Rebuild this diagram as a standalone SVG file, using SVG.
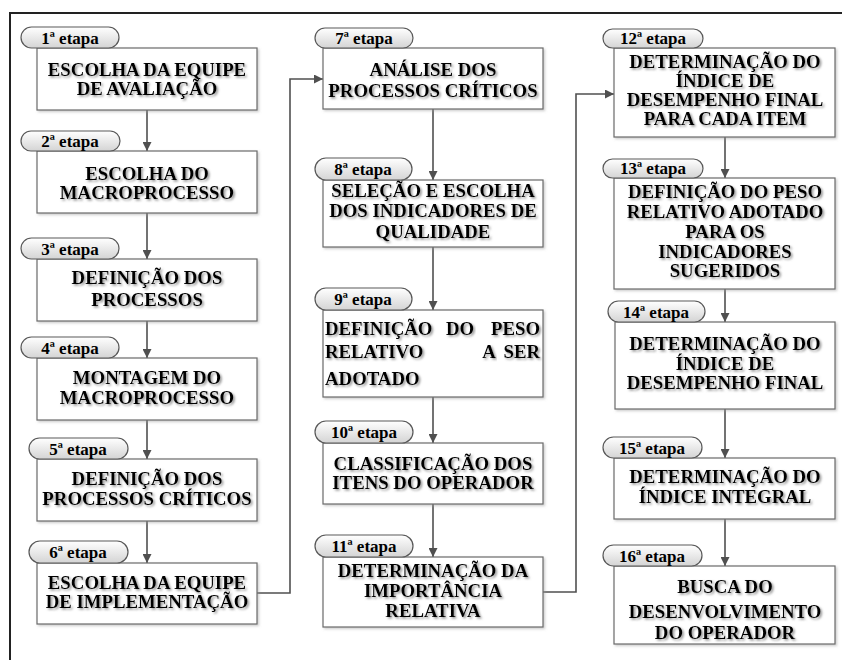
<svg xmlns="http://www.w3.org/2000/svg" width="842" height="660" viewBox="0 0 842 660">
<defs>
<linearGradient id="pg" x1="0" y1="0" x2="0" y2="1">
<stop offset="0" stop-color="#ffffff"/>
<stop offset="1" stop-color="#d4d4d4"/>
</linearGradient>
<filter id="ts" x="-5%" y="-20%" width="110%" height="150%">
<feDropShadow dx="1.6" dy="1.6" stdDeviation="0.9" flood-color="#6e6e6e" flood-opacity="0.75"/>
</filter>
<filter id="bs" x="-5%" y="-5%" width="112%" height="115%">
<feDropShadow dx="1.5" dy="1.5" stdDeviation="1" flood-color="#999" flood-opacity="0.5"/>
</filter>
<marker id="ah" markerUnits="userSpaceOnUse" markerWidth="9" markerHeight="9" viewBox="0 0 10 10" refX="10" refY="5" orient="auto">
<path d="M0,0 L10,5 L0,10 z" fill="#505050"/>
</marker>
</defs>
<style>
.box{fill:#fff;stroke:#6a6a6a;stroke-width:1.2;filter:url(#bs)}
.pill{fill:url(#pg);stroke:#585858;stroke-width:1.2}
.lbl{font-family:"Liberation Serif","Times New Roman",serif;font-weight:bold;font-size:17px;fill:#000;text-anchor:middle}
.t{font-family:"Liberation Serif","Times New Roman",serif;font-weight:bold;font-size:18.8px;fill:#000;text-anchor:middle;filter:url(#ts)}
.l{text-anchor:start}
.r{text-anchor:end}
.c{fill:none;stroke:#505050;stroke-width:1.6}
</style>
<path d="M10,660 L10,13 L842,13" fill="none" stroke="#222" stroke-width="2"/>

<g id="connectors">
<path class="c" d="M147,110 L147,151" marker-end="url(#ah)"/>
<path class="c" d="M147,213 L147,259" marker-end="url(#ah)"/>
<path class="c" d="M147,321 L147,358" marker-end="url(#ah)"/>
<path class="c" d="M147,420 L147,459" marker-end="url(#ah)"/>
<path class="c" d="M147,521 L147,563" marker-end="url(#ah)"/>
<path class="c" d="M257,593 L290,593 L290,79 L323,79" marker-end="url(#ah)"/>
<path class="c" d="M433,109 L433,180" marker-end="url(#ah)"/>
<path class="c" d="M433,247 L433,310" marker-end="url(#ah)"/>
<path class="c" d="M433,397 L433,443" marker-end="url(#ah)"/>
<path class="c" d="M433,504 L433,557" marker-end="url(#ah)"/>
<path class="c" d="M543,592 L576,592 L576,94 L614,94" marker-end="url(#ah)"/>
<path class="c" d="M725,137 L725,178" marker-end="url(#ah)"/>
<path class="c" d="M725,289 L725,322" marker-end="url(#ah)"/>
<path class="c" d="M725,409 L725,458" marker-end="url(#ah)"/>
<path class="c" d="M725,519 L725,566" marker-end="url(#ah)"/>
</g>

<g id="n1">
<rect class="box" x="37" y="48" width="220" height="62"/>
<rect class="pill" x="21" y="27" width="98" height="21" rx="10.5"/>
<text class="lbl" x="70" y="44">1ª etapa</text>
<text class="t" x="147" y="76">ESCOLHA DA EQUIPE</text>
<text class="t" x="147" y="95">DE AVALIAÇÃO</text>
</g>
<g id="n2">
<rect class="box" x="37" y="151" width="220" height="62"/>
<rect class="pill" x="21" y="131" width="99" height="20" rx="10"/>
<text class="lbl" x="70" y="147">2ª etapa</text>
<text class="t" x="147" y="180">ESCOLHA DO</text>
<text class="t" x="147" y="199">MACROPROCESSO</text>
</g>
<g id="n3">
<rect class="box" x="37" y="259" width="220" height="62"/>
<rect class="pill" x="21" y="238" width="98" height="21" rx="10.5"/>
<text class="lbl" x="70" y="255">3ª etapa</text>
<text class="t" x="147" y="284">DEFINIÇÃO DOS</text>
<text class="t" x="147" y="306">PROCESSOS</text>
</g>
<g id="n4">
<rect class="box" x="37" y="358" width="220" height="62"/>
<rect class="pill" x="21" y="337" width="98" height="21" rx="10.5"/>
<text class="lbl" x="70" y="354">4ª etapa</text>
<text class="t" x="147" y="384">MONTAGEM DO</text>
<text class="t" x="147" y="404">MACROPROCESSO</text>
</g>
<g id="n5">
<rect class="box" x="37" y="459" width="220" height="62"/>
<rect class="pill" x="29" y="438" width="99" height="21" rx="10.5"/>
<text class="lbl" x="78" y="455">5ª etapa</text>
<text class="t" x="147" y="485">DEFINIÇÃO DOS</text>
<text class="t" x="147" y="505">PROCESSOS CRÍTICOS</text>
</g>
<g id="n6">
<rect class="box" x="37" y="563" width="220" height="61"/>
<rect class="pill" x="29" y="541" width="99" height="22" rx="11"/>
<text class="lbl" x="78" y="558">6ª etapa</text>
<text class="t" x="147" y="589">ESCOLHA DA EQUIPE</text>
<text class="t" x="147" y="608">DE IMPLEMENTAÇÃO</text>
</g>

<g id="n7">
<rect class="box" x="323" y="48" width="220" height="61"/>
<rect class="pill" x="315" y="28" width="98" height="20" rx="10"/>
<text class="lbl" x="364" y="44">7ª etapa</text>
<text class="t" x="433" y="76">ANÁLISE DOS</text>
<text class="t" x="433" y="97">PROCESSOS CRÍTICOS</text>
</g>
<g id="n8">
<rect class="box" x="323" y="180" width="220" height="67"/>
<rect class="pill" x="315" y="158" width="97" height="22" rx="11"/>
<text class="lbl" x="363" y="175">8ª etapa</text>
<text class="t" x="433" y="197">SELEÇÃO E ESCOLHA</text>
<text class="t" x="433" y="217">DOS INDICADORES DE</text>
<text class="t" x="433" y="238">QUALIDADE</text>
</g>
<g id="n9">
<rect class="box" x="323" y="310" width="220" height="87"/>
<rect class="pill" x="315" y="288" width="97" height="22" rx="11"/>
<text class="lbl" x="363" y="305">9ª etapa</text>
<text class="t l" x="325" y="335">DEFINIÇÃO</text>
<text class="t" x="460" y="335">DO</text>
<text class="t r" x="540" y="335">PESO</text>
<text class="t l" x="325" y="358">RELATIVO</text>
<text class="t" x="489" y="358">A</text>
<text class="t r" x="540" y="358">SER</text>
<text class="t l" x="325" y="385">ADOTADO</text>
</g>
<g id="n10">
<rect class="box" x="323" y="443" width="220" height="61"/>
<rect class="pill" x="315" y="421" width="98" height="22" rx="11"/>
<text class="lbl" x="364" y="438">10ª etapa</text>
<text class="t" x="433" y="470">CLASSIFICAÇÃO DOS</text>
<text class="t" x="433" y="489">ITENS DO OPERADOR</text>
</g>
<g id="n11">
<rect class="box" x="323" y="557" width="220" height="70"/>
<rect class="pill" x="315" y="535" width="98" height="22" rx="11"/>
<text class="lbl" x="364" y="552">11ª etapa</text>
<text class="t" x="433" y="577">DETERMINAÇÃO DA</text>
<text class="t" x="433" y="597">IMPORTÂNCIA</text>
<text class="t" x="433" y="617">RELATIVA</text>
</g>

<g id="n12">
<rect class="box" x="614" y="48" width="221" height="89"/>
<rect class="pill" x="603" y="29" width="100" height="19" rx="9.5"/>
<text class="lbl" x="653" y="44">12ª etapa</text>
<text class="t" x="725" y="68">DETERMINAÇÃO DO</text>
<text class="t" x="725" y="87">ÍNDICE DE</text>
<text class="t" x="725" y="106">DESEMPENHO FINAL</text>
<text class="t" x="725" y="125">PARA CADA ITEM</text>
</g>
<g id="n13">
<rect class="box" x="614" y="178" width="221" height="111"/>
<rect class="pill" x="603" y="159" width="100" height="19" rx="9.5"/>
<text class="lbl" x="653" y="174">13ª etapa</text>
<text class="t" x="725" y="198">DEFINIÇÃO DO PESO</text>
<text class="t" x="725" y="218">RELATIVO ADOTADO</text>
<text class="t" x="725" y="238">PARA OS</text>
<text class="t" x="725" y="258">INDICADORES</text>
<text class="t" x="725" y="277">SUGERIDOS</text>
</g>
<g id="n14">
<rect class="box" x="615" y="322" width="220" height="87"/>
<rect class="pill" x="608" y="301" width="97" height="21" rx="10.5"/>
<text class="lbl" x="656" y="318">14ª etapa</text>
<text class="t" x="725" y="350">DETERMINAÇÃO DO</text>
<text class="t" x="725" y="370">ÍNDICE DE</text>
<text class="t" x="725" y="389">DESEMPENHO FINAL</text>
</g>
<g id="n15">
<rect class="box" x="614" y="458" width="221" height="61"/>
<rect class="pill" x="603" y="437" width="99" height="21" rx="10.5"/>
<text class="lbl" x="652" y="454">15ª etapa</text>
<text class="t" x="725" y="483">DETERMINAÇÃO DO</text>
<text class="t" x="725" y="503">ÍNDICE INTEGRAL</text>
</g>
<g id="n16">
<rect class="box" x="614" y="566" width="221" height="78"/>
<rect class="pill" x="603" y="545" width="99" height="21" rx="10.5"/>
<text class="lbl" x="652" y="562">16ª etapa</text>
<text class="t" x="725" y="593">BUSCA DO</text>
<text class="t" x="725" y="618">DESENVOLVIMENTO</text>
<text class="t" x="725" y="639">DO OPERADOR</text>
</g>
</svg>
